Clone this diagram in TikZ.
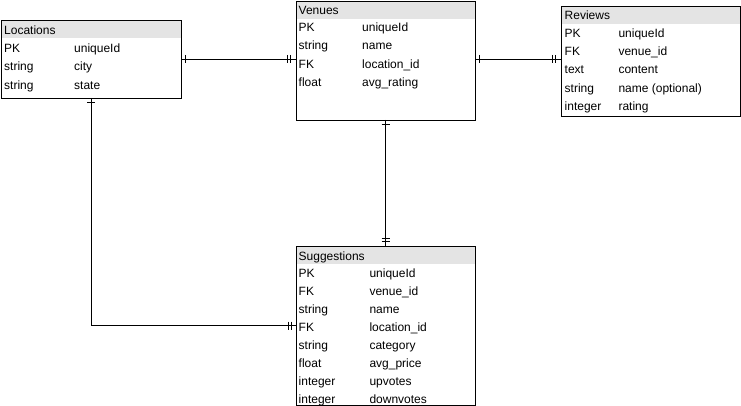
\documentclass[tikz,border=0pt]{standalone}
\usepackage{fontspec}
\setmainfont{Liberation Sans}
\definecolor{headgray}{HTML}{E4E4E4}
\begin{document}
\begin{tikzpicture}[x=1pt,y=-1pt,
  thead/.style={fill=headgray, rectangle, anchor=north west, inner sep=0pt, outer sep=0pt, minimum height=18pt},
  tbox/.style={draw=black, line width=0.9pt, rectangle, anchor=north west, inner sep=0pt, outer sep=0pt},
  cell/.style={anchor=base west, inner sep=0pt, font=\fontsize{12}{14}\selectfont},
  link/.style={draw=black, line width=0.9pt},
]
\useasboundingbox (0,0) rectangle (741,406);

% ---------- Locations ----------
\node[thead, minimum width=180pt] (lochead) at (1,20) {};
\node[tbox, minimum width=180pt, minimum height=78pt] (loc) at (1,20) {};
\node[cell] (l0) at (4,34.8) {Locations};
\node[cell] (l1a) at (4,52.6) {PK};      \node[cell] (l1b) at (74,52.6) {uniqueId};
\node[cell] (l2a) at (4,70.9) {string};  \node[cell] (l2b) at (74,70.9) {city};
\node[cell] (l3a) at (4,89.2) {string};  \node[cell] (l3b) at (74,89.2) {state};

% ---------- Venues ----------
\node[thead, minimum width=179pt] (venhead) at (296,1) {};
\node[tbox, minimum width=179pt, minimum height=119pt] (ven) at (296,1) {};
\node[cell] (v0) at (298.5,14.3) {Venues};
\node[cell] (v1a) at (298.5,31.6) {PK};     \node[cell] (v1b) at (362,31.6) {uniqueId};
\node[cell] (v2a) at (298.5,49.9) {string}; \node[cell] (v2b) at (362,49.9) {name};
\node[cell] (v3a) at (298.5,68.2) {FK};     \node[cell] (v3b) at (362,68.2) {location\_id};
\node[cell] (v4a) at (298.5,86.5) {float};  \node[cell] (v4b) at (362,86.5) {avg\_rating};

% ---------- Reviews ----------
\node[thead, minimum width=179pt] (revhead) at (561,6) {};
\node[tbox, minimum width=179pt, minimum height=110pt] (rev) at (561,6) {};
\node[cell] (r0) at (564.5,19.3) {Reviews};
\node[cell] (r1a) at (564.5,37.6) {PK};      \node[cell] (r1b) at (618.3,37.6) {uniqueId};
\node[cell] (r2a) at (564.5,55.8) {FK};      \node[cell] (r2b) at (618.3,55.8) {venue\_id};
\node[cell] (r3a) at (564.5,74.0) {text};    \node[cell] (r3b) at (618.3,74.0) {content};
\node[cell] (r4a) at (564.5,92.2) {string};  \node[cell] (r4b) at (618.3,92.2) {name (optional)};
\node[cell] (r5a) at (564.5,110.4) {integer};\node[cell] (r5b) at (618.3,110.4) {rating};

% ---------- Suggestions ----------
\node[thead, minimum width=179pt] (sughead) at (296,246) {};
\node[tbox, minimum width=179pt, minimum height=159.5pt] (sug) at (296,246) {};
\node[cell] (s0) at (298.5,260.3) {Suggestions};
\node[cell] (s1a) at (298.5,277.3) {PK};      \node[cell] (s1b) at (369.3,277.3) {uniqueId};
\node[cell] (s2a) at (298.5,295.3) {FK};      \node[cell] (s2b) at (369.3,295.3) {venue\_id};
\node[cell] (s3a) at (298.5,313.3) {string};  \node[cell] (s3b) at (369.3,313.3) {name};
\node[cell] (s4a) at (298.5,331.3) {FK};      \node[cell] (s4b) at (369.3,331.3) {location\_id};
\node[cell] (s5a) at (298.5,349.3) {string};  \node[cell] (s5b) at (369.3,349.3) {category};
\node[cell] (s6a) at (298.5,367.3) {float};   \node[cell] (s6b) at (369.3,367.3) {avg\_price};
\node[cell] (s7a) at (298.5,385.3) {integer}; \node[cell] (s7b) at (369.3,385.3) {upvotes};
\node[cell] (s8a) at (298.5,403.3) {integer}; \node[cell] (s8b) at (369.3,403.3) {downvotes};

% ---------- Connectors ----------
% Locations -- Venues
\draw[link] (loc.east) -- (loc.east -| ven.west);
\draw[link] ([xshift=4pt]loc.east) +(0,-4) -- +(0,4);
\draw[link] ([xshift=-5.5pt]loc.east -| ven.west) +(0,-4) -- +(0,4);
\draw[link] ([xshift=-8.5pt]loc.east -| ven.west) +(0,-4) -- +(0,4);

% Venues -- Reviews
\draw[link] (loc.east -| ven.east) -- (loc.east -| rev.west);
\draw[link] ([xshift=4pt]loc.east -| ven.east) +(0,-4) -- +(0,4);
\draw[link] ([xshift=-5.5pt]loc.east -| rev.west) +(0,-4) -- +(0,4);
\draw[link] ([xshift=-8.5pt]loc.east -| rev.west) +(0,-4) -- +(0,4);

% Venues -- Suggestions
\draw[link] (ven.south) -- (sug.north);
\draw[link] ([yshift=-4pt]ven.south) +(-4,0) -- +(4,0);
\draw[link] ([yshift=4.5pt]sug.north) +(-4,0) -- +(4,0);
\draw[link] ([yshift=8pt]sug.north) +(-4,0) -- +(4,0);

% Locations -- Suggestions
\draw[link] ([yshift=1.5pt]loc.south |- s4a.west) coordinate (bend) (loc.south) -- (bend) -- (bend -| sug.west);
\draw[link] ([yshift=-4pt]loc.south) +(-4,0) -- +(4,0);
\draw[link] ([xshift=-5pt]bend -| sug.west) +(0,-4) -- +(0,4);
\draw[link] ([xshift=-8pt]bend -| sug.west) +(0,-4) -- +(0,4);
\end{tikzpicture}
\end{document}
